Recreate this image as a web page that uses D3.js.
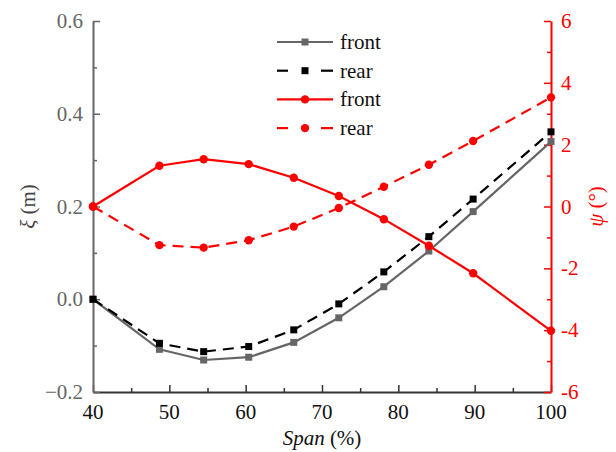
<!DOCTYPE html>
<html>
<head>
<meta charset="utf-8">
<script src="https://cdn.jsdelivr.net/npm/d3@7"></script>
</head>
<body style="margin:0">
<svg id="chart" width="616" height="452"></svg>
<script>
// span positions (%)
const span = [40, 48.7, 54.5, 60.4, 66.3, 72.2, 78.1, 84.0, 89.8, 100];
// xi (m), left axis
const xiFront = [0.0, -0.108, -0.131, -0.125, -0.093, -0.040, 0.027, 0.104, 0.189, 0.340];
const xiRear = [0.0, -0.095, -0.113, -0.102, -0.066, -0.010, 0.059, 0.135, 0.216, 0.361];
// psi (deg), right axis
const psiFront = [0.0, 1.32, 1.53, 1.37, 0.93, 0.34, -0.41, -1.27, -2.16, -4.02];
const psiRear = [0.0, -1.25, -1.33, -1.09, -0.65, -0.05, 0.64, 1.35, 2.12, 3.53];

const xTicks = [40, 50, 60, 70, 80, 90, 100];
const yLeftTicks = [-0.2, 0.0, 0.2, 0.4, 0.6];
const yRightTicks = [-6, -4, -2, 0, 2, 4, 6];

const FONT = "Liberation Serif";
const margin = { top: 21, right: 65, bottom: 60, left: 93 };
const svg = d3.select("#chart");
const width = 616 - margin.left - margin.right;
const height = 452 - margin.top - margin.bottom;
const red = "#ff0000";

// scales in page coordinates so text can sit straight on the svg
const x = d3.scaleLinear().domain([40, 100]).range([margin.left, margin.left + width]);
const yL = d3.scaleLinear().domain([-0.2, 0.6]).range([margin.top + height, margin.top]);
const yR = d3.scaleLinear().domain([-6, 6]).range([margin.top + height, margin.top]);

const bottom = margin.top + height;
const right = margin.left + width;

// axis lines and inward ticks (labels drawn separately)
const minorX = d3.range(45, 100, 10);
const minorL = [-0.1, 0.1, 0.3, 0.5];
const minorR = d3.range(-5, 6, 2);

const lineAxis = (axis, tx, ty, color, major, minor) => {
  const a = svg.append("g").attr("transform", `translate(${tx}, ${ty})`)
    .call(axis.tickValues(major).tickSizeInner(-7).tickSizeOuter(0).tickFormat(""));
  a.selectAll("text").remove();
  a.select(".domain").attr("stroke", color).attr("stroke-width", 2);
  a.selectAll(".tick line").attr("stroke", color).attr("stroke-width", 1.5);
  const m = svg.append("g").attr("transform", `translate(${tx}, ${ty})`)
    .call(axis.tickValues(minor).tickSizeInner(-4).tickSizeOuter(0).tickFormat(""));
  m.selectAll("text").remove();
  m.select(".domain").remove();
  m.selectAll("line").attr("stroke", color).attr("stroke-width", 1.5);
};
lineAxis(d3.axisBottom(x), 0, bottom, "#333", xTicks, minorX);
lineAxis(d3.axisLeft(yL), margin.left, 0, "#666", yLeftTicks, minorL);
lineAxis(d3.axisRight(yR), right, 0, red, yRightTicks, minorR);

const label = (tx, ty, str, color, anchor) =>
  svg.append("text").attr("x", tx).attr("y", ty)
    .attr("font-family", FONT).style("font-size", "21px")
    .attr("fill", color).attr("text-anchor", anchor).text(str);

// tick labels
xTicks.forEach(v => label(x(v), bottom + 27, v, "#111", "middle"));
yLeftTicks.forEach(v => label(margin.left - 10, yL(v) + 7, d3.format(".1f")(v), "#666", "end"));
yRightTicks.forEach(v => label(right + 10, yR(v) + 7, v, red, "start"));

// axis titles
const xt = label(margin.left + width / 2, bottom + 53, "", "#111", "middle");
xt.append("tspan").attr("font-style", "italic").text("Span");
xt.append("tspan").text(" (%)");

svg.append("text")
  .attr("transform", `translate(35, ${yL(0.2)}) rotate(-90)`)
  .attr("font-family", FONT).style("font-size", "21px")
  .attr("text-anchor", "middle").attr("fill", "#444")
  .call(t => { t.append("tspan").attr("font-style", "italic").text("ξ"); t.append("tspan").text(" (m)"); });

svg.append("text")
  .attr("transform", `translate(${right + 52}, ${yR(0)}) rotate(-90)`)
  .attr("font-family", FONT).style("font-size", "21px")
  .attr("text-anchor", "middle").attr("fill", red)
  .call(t => { t.append("tspan").attr("font-style", "italic").text("ψ"); t.append("tspan").text(" (°)"); });

// series
const series = [
  { name: "front", vals: xiFront, y: yL, color: "#666", dash: null, marker: "square" },
  { name: "rear", vals: xiRear, y: yL, color: "#000", dash: "11,7", marker: "square" },
  { name: "front", vals: psiFront, y: yR, color: red, dash: null, marker: "circle" },
  { name: "rear", vals: psiRear, y: yR, color: red, dash: "11,7", marker: "circle" }
];

const drawMarker = (sel, type, color) => {
  if (type === "square") {
    sel.append("rect").attr("x", -3.5).attr("y", -3.5).attr("width", 7).attr("height", 7).attr("fill", color);
  } else {
    sel.append("circle").attr("r", 4.2).attr("fill", color);
  }
};

series.forEach(s => {
  const pts = span.map((d, i) => [d, s.vals[i]]);
  const line = d3.line().x(d => x(d[0])).y(d => s.y(d[1]));
  svg.append("path").datum(pts)
    .attr("fill", "none").attr("stroke", s.color).attr("stroke-width", 2.2)
    .attr("stroke-dasharray", s.dash).attr("d", line);
  svg.selectAll(null).data(pts).enter().append("g")
    .attr("transform", d => `translate(${x(d[0])}, ${s.y(d[1])})`)
    .each(function () { drawMarker(d3.select(this), s.marker, s.color); });
});

// legend
const lx = margin.left + 184, ly = margin.top + 21;
series.forEach((s, i) => {
  const ry = ly + i * 28.7;
  const row = svg.append("g").attr("transform", `translate(${lx}, ${ry})`);
  if (s.dash) {
    row.append("line").attr("x1", 0).attr("x2", 11).attr("stroke", s.color).attr("stroke-width", 2.2);
    row.append("line").attr("x1", 44).attr("x2", 56).attr("stroke", s.color).attr("stroke-width", 2.2);
  } else {
    row.append("line").attr("x1", 0).attr("x2", 56).attr("stroke", s.color).attr("stroke-width", 2.2);
  }
  row.append("g").attr("transform", "translate(28, 0)").call(m => drawMarker(m, s.marker, s.color));
  label(lx + 63, ry + 7, s.name, "#111", "start");
});
</script>
</body>
</html>
